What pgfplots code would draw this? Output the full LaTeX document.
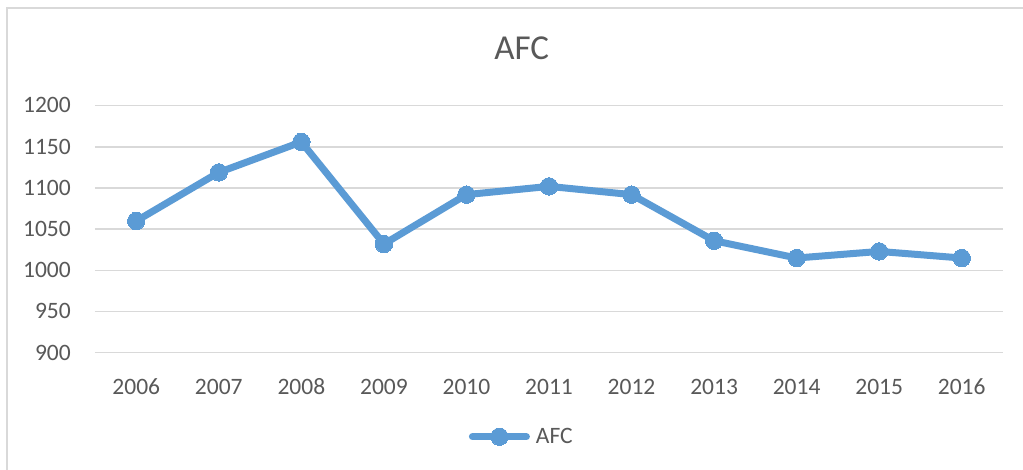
\documentclass[border=0pt]{standalone}
\usepackage{pgfplots}
\pgfplotsset{compat=1.18}
\usepackage{fontspec}
\setmainfont{Carlito}
\definecolor{excelblue}{HTML}{5B9BD5}
\definecolor{gridgray}{HTML}{D9D9D9}
\definecolor{textgray}{HTML}{595959}
\begin{document}
\begin{tikzpicture}
\useasboundingbox (-95bp,-117.3bp) rectangle (928bp,352.7bp);
\clip (-95bp,-117.3bp) rectangle (928bp,352.7bp);
\fill[white] (-95bp,-117.3bp) rectangle (928bp,352.7bp);
\draw[gridgray, line width=1.5bp] (-88bp,-140bp) -- (-88bp,344.7bp) -- (960bp,344.7bp);
\begin{axis}[
  at={(0,0)}, anchor=south west,
  scale only axis, width=908bp, height=247bp,
  xmin=-0.5, xmax=10.5, ymin=900, ymax=1200,
  xtick={0,...,10},
  xticklabels={2006,2007,2008,2009,2010,2011,2012,2013,2014,2015,2016},
  ytick={900,950,...,1200},
  ymajorgrids,
  grid style={gridgray, line width=1.5bp},
  axis line style={draw=none},
  tick style={draw=none},
  /pgf/number format/assume math mode=true,
  /pgf/number format/1000 sep={},
  ticklabel style={font=\fontsize{23.5bp}{28bp}\selectfont, text=textgray, inner sep=0pt},
  xticklabel style={anchor=base, yshift=-41.6bp},
  yticklabel style={anchor=base east, xshift=-24bp, yshift=-7.3bp},
  title={AFC},
  title style={font=\fontsize{35bp}{40bp}\selectfont, text=textgray, inner sep=0pt, anchor=base, at={(axis description cs:0.47,1)}, yshift=40.7bp},
  legend style={draw=none, fill=none, at={(axis description cs:0.47,0)}, anchor=center, yshift=-84bp, font=\fontsize{23.5bp}{28bp}\selectfont, text=textgray, inner sep=0pt, column sep=4bp},
  legend cell align=left,
  legend image code/.code={\draw[mark repeat=2,mark phase=2,#1] plot coordinates {(0bp,0bp) (27bp,0bp) (54bp,0bp)};},
  clip=false,
]
\addplot[excelblue, line width=7bp, line cap=round, line join=round, mark=*, mark size=8.7bp, mark options={fill=excelblue, draw=excelblue, line width=0pt}]
  coordinates {(0,1060) (1,1119) (2,1156) (3,1032) (4,1092) (5,1102) (6,1092) (7,1036) (8,1015) (9,1023) (10,1015)};
\addlegendentry{AFC}
\end{axis}
\end{tikzpicture}
\end{document}
